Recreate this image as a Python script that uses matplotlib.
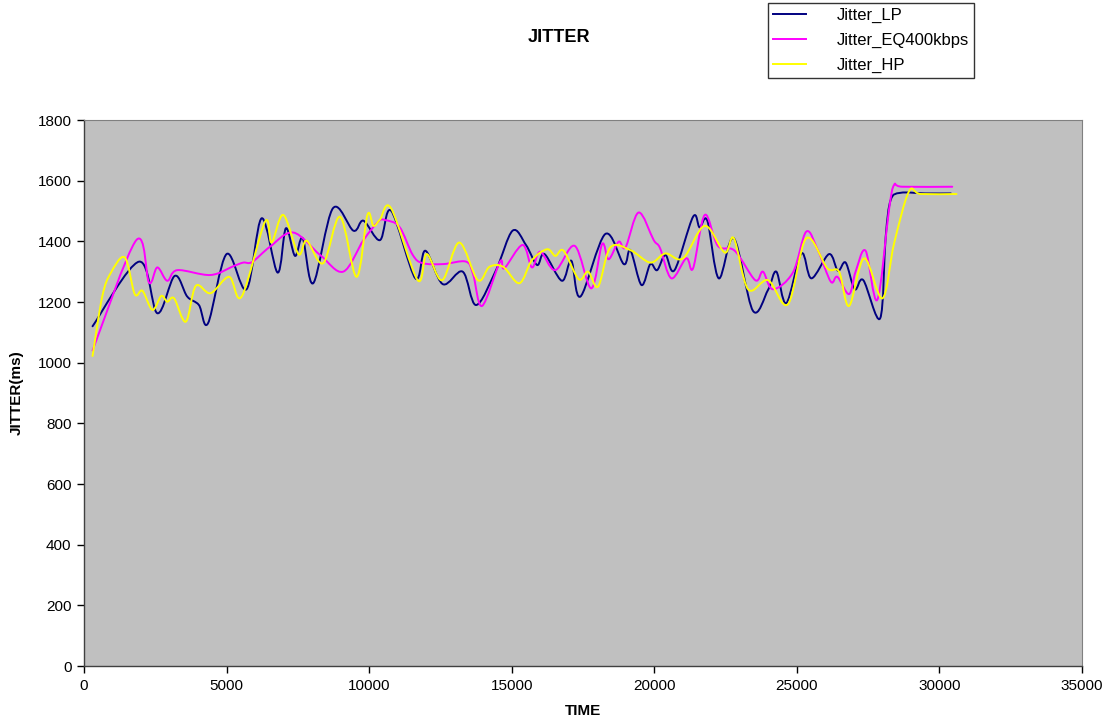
import numpy as np
import matplotlib
matplotlib.use("Agg")
import matplotlib.pyplot as plt
from matplotlib.path import Path
from matplotlib.patches import PathPatch
from matplotlib.lines import Line2D

plt.rcParams['font.family'] = ['Liberation Sans', 'DejaVu Sans']

# ---- data ----
lp_x = [300, 1930, 2570, 3180, 3620, 4030, 4350, 5000, 5700, 6230, 6790, 7080, 7400, 7670,
        8040, 8730, 9450, 9800, 10380, 10770, 11620, 11970, 12580, 13280, 13750, 14450, 15030,
        15500, 15890, 16150, 16760, 17090, 17410, 18280, 18930, 19160, 19550, 19860, 20100,
        20390, 20710, 21360, 21590, 21860, 22260, 22790, 23460, 23990, 24280, 24630, 25160,
        25510, 26130, 26440, 26710, 27030, 27330, 27920, 28115, 28290, 28640, 29500, 30400]
lp_y = [1120, 1333, 1163, 1286, 1218, 1190, 1130, 1358, 1242, 1476, 1297, 1443, 1352, 1410,
        1262, 1509, 1435, 1468, 1404, 1501, 1278, 1369, 1259, 1300, 1190, 1305, 1435,
        1388, 1322, 1358, 1270, 1336, 1218, 1424, 1325, 1371, 1256, 1325, 1305,
        1355, 1305, 1481, 1446, 1468, 1278, 1410, 1171, 1240, 1300, 1196, 1360,
        1278, 1358, 1303, 1330, 1242, 1272, 1146, 1415, 1536, 1560, 1558, 1558]

eq_x = [300, 1835, 2280, 2570, 2920, 3270, 4440, 5260, 5590, 5900, 6520, 7340, 8280, 9090,
        9800, 10320, 10560, 11060, 11530, 11880, 12600, 13400, 13650, 13960, 14590, 14740,
        15380, 15710, 16000, 16530, 17210, 17790, 18170, 18400, 18750, 18990, 19450, 19980,
        20200, 20600, 21120, 21360, 21770, 22230, 22820, 23540, 23810, 24160, 24860, 25330,
        25740, 26190, 26420, 26830, 27060, 27410, 27820, 28230, 28410, 28700, 30450]
eq_y = [1040, 1404, 1264, 1314, 1270, 1305, 1289, 1319, 1330, 1332, 1382, 1429, 1355, 1300,
        1404, 1465, 1470, 1448, 1355, 1328, 1325, 1333, 1290, 1187, 1333, 1311,
        1388, 1314, 1366, 1305, 1385, 1245, 1391, 1341, 1399, 1380, 1495, 1404,
        1378, 1278, 1344, 1311, 1487, 1385, 1369, 1272, 1300, 1242, 1297, 1432,
        1370, 1267, 1283, 1226, 1300, 1369, 1207, 1503, 1586, 1580, 1580]

hp_x = [300, 640, 935, 1430, 1780, 2050, 2400, 2710, 2920, 3160, 3570, 3920, 4440, 5090,
        5530, 6350, 6580, 6990, 7520, 7810, 8390, 8980, 9560, 9940, 10150, 10380, 10770,
        11700, 12020, 12560, 13160, 13810, 14220, 14700, 15270, 15710, 16240, 16530, 16820,
        17350, 17680, 18030, 18460, 19160, 19860, 20390, 21010, 21770, 22470, 22790, 23290,
        23990, 24690, 25330, 26070, 26480, 26830, 27360, 28000, 28410, 28930, 29340, 30600]
hp_y = [1022, 1218, 1295, 1347, 1226, 1237, 1174, 1220, 1201, 1212, 1135, 1253, 1229, 1283,
        1218, 1465, 1396, 1487, 1358, 1402, 1328, 1481, 1283, 1487, 1451, 1472, 1509,
        1272, 1358, 1272, 1396, 1272, 1316, 1316, 1262, 1338, 1374, 1352, 1369,
        1275, 1300, 1251, 1380, 1371, 1330, 1360, 1344, 1451, 1363, 1410, 1242,
        1272, 1193, 1410, 1311, 1300, 1187, 1344, 1212, 1393, 1564, 1556, 1556]

series_names = ['Jitter_LP', 'Jitter_EQ400kbps', 'Jitter_HP']
series_colors = ['#000080', '#FF00FF', '#FFFF00']
x_ticks = [0, 5000, 10000, 15000, 20000, 25000, 30000, 35000]
y_ticks = [0, 200, 400, 600, 800, 1000, 1200, 1400, 1600, 1800]


def smooth_path(x, y):
    pts = np.column_stack([x, y]).astype(float)
    n = len(pts)
    verts = [pts[0]]
    codes = [Path.MOVETO]
    for i in range(n - 1):
        p0 = pts[i - 1] if i > 0 else pts[i]
        p1 = pts[i]
        p2 = pts[i + 1]
        p3 = pts[i + 2] if i + 2 < n else pts[i + 1]
        c1 = p1 + (p2 - p0) / 6.0
        c2 = p2 - (p3 - p1) / 6.0
        verts += [c1, c2, p2]
        codes += [Path.CURVE4] * 3
    return Path(verts, codes)


fig = plt.figure(figsize=(11.12, 7.27), dpi=100)
ax = fig.add_axes([84 / 1112, 61 / 727, 998 / 1112, 546 / 727])
ax.set_facecolor('#C0C0C0')

handles = []
for (xs, ys), name, col in zip([(lp_x, lp_y), (eq_x, eq_y), (hp_x, hp_y)],
                               series_names, series_colors):
    patch = PathPatch(smooth_path(xs, ys), facecolor='none', edgecolor=col,
                      linewidth=1.4, capstyle='round', joinstyle='round')
    ax.add_patch(patch)
    handles.append(Line2D([], [], color=col, linewidth=1.4, label=name))

ax.set_xlim(0, 35000)
ax.set_ylim(0, 1800)
ax.set_xticks(x_ticks)
ax.set_yticks(y_ticks)
ax.tick_params(axis='both', direction='out', length=5, width=1, labelsize=11,
               colors='black', pad=4)
for s in ['left', 'bottom']:
    ax.spines[s].set_color('#404040')
    ax.spines[s].set_linewidth(1)
for s in ['top', 'right']:
    ax.spines[s].set_color('#808080')
    ax.spines[s].set_linewidth(0.8)

ax.set_xlabel('TIME', fontsize=11, fontweight='bold', labelpad=8)
ax.set_ylabel('JITTER(ms)', fontsize=11, fontweight='bold', labelpad=10)
fig.text(559 / 1112, 1 - 38 / 727, 'JITTER', fontsize=13, fontweight='bold',
         ha='center', va='center')

leg = fig.legend(handles=handles, loc='upper left',
                 bbox_to_anchor=(768 / 1112, 1 - 3 / 727), borderaxespad=0,
                 fontsize=12, frameon=True, fancybox=False, shadow=False,
                 handlelength=2.0, handletextpad=1.85, labelspacing=0.6,
                 borderpad=0.3)
leg.get_frame().set_edgecolor('black')
leg.get_frame().set_linewidth(1)

fig.savefig('out.png', dpi=100, facecolor='white')
